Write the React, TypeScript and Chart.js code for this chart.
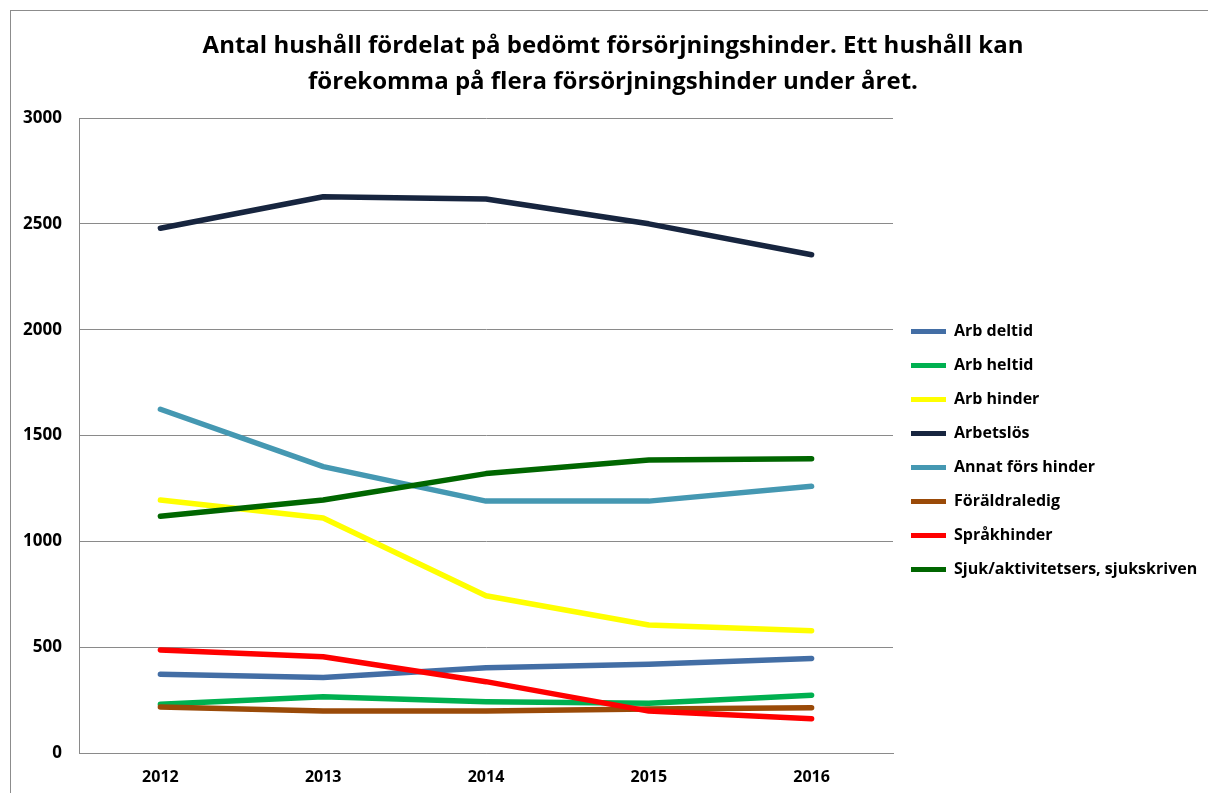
import React, { useEffect, useRef } from "react";
import { Chart, registerables } from "chart.js";

Chart.register(...registerables);

const years = ["2012", "2013", "2014", "2015", "2016"];
const arbDeltid = [372, 357, 403, 419, 447];
const arbHeltid = [230, 266, 242, 235, 273];
const arbHinder = [1195, 1110, 743, 605, 578];
const arbetslos = [2479, 2628, 2617, 2500, 2354];
const annatForsHinder = [1624, 1353, 1190, 1190, 1260];
const foraldraledig = [217, 198, 198, 208, 214];
const sprakhinder = [487, 455, 337, 198, 162];
const sjuk = [1118, 1195, 1320, 1384, 1390];

const seriesNames = [
  "Arb deltid",
  "Arb heltid",
  "Arb hinder",
  "Arbetslös",
  "Annat förs hinder",
  "Föräldraledig",
  "Språkhinder",
  "Sjuk/aktivitetsers, sjukskriven",
];
const seriesValues = [arbDeltid, arbHeltid, arbHinder, arbetslos, annatForsHinder, foraldraledig, sprakhinder, sjuk];
const seriesColors = ["#436EA5", "#00B050", "#FFFF00", "#17253F", "#4598B2", "#9A4A08", "#FF0000", "#006600"];

const titleLines = [
  "Antal hushåll fördelat på bedömt försörjningshinder. Ett hushåll kan",
  "förekomma på flera försörjningshinder under året.",
];

const FONT = "'Open Sans', 'Liberation Sans', sans-serif";

const legendWidthPlugin = {
  id: "legendWidth",
  beforeLayout(chart: any) {
    const lg = chart.legend;
    if (lg && !lg.__patched) {
      const orig = lg.fit.bind(lg);
      lg.fit = function () {
        orig();
        this.width = 311;
      };
      lg.__patched = true;
    }
  },
};

export default function App() {
  const canvasRef = useRef<HTMLCanvasElement | null>(null);

  useEffect(() => {
    const canvas = canvasRef.current;
    if (!canvas) return;
    const chart = new Chart(canvas, {
      type: "line",
      plugins: [legendWidthPlugin],
      data: {
        labels: years,
        datasets: seriesNames.map((name, i) => ({
          label: name,
          data: seriesValues[i],
          borderColor: seriesColors[i],
          backgroundColor: seriesColors[i],
          borderWidth: 5.5,
          borderCapStyle: "round" as const,
          borderJoinStyle: "round" as const,
          pointRadius: 0,
          tension: 0,
          order: -i,
        })),
      },
      options: {
        animation: false,
        responsive: false,
        layout: { padding: { left: 22, right: 4, top: 0, bottom: 6 } },
        plugins: {
          title: {
            display: true,
            text: titleLines,
            color: "#000",
            font: { family: FONT, size: 24, weight: "bold", lineHeight: 1.5 },
            padding: { top: 28, bottom: 18 },
          },
          legend: {
            position: "right",
            title: {
              display: true,
              text: " ",
              font: { family: FONT, size: 10 },
              padding: { top: 102, bottom: 0 },
            },
            labels: {
              color: "#000",
              font: { family: FONT, size: 16, weight: "bold" },
              boxWidth: 35,
              boxHeight: 5,
              padding: 18,
              useBorderRadius: true,
              borderRadius: 2.5,
              sort: (a: any, b: any) => a.datasetIndex - b.datasetIndex,
              generateLabels: (ch: any) =>
                ch.data.datasets.map((ds: any, i: number) => ({
                  text: ds.label,
                  fillStyle: ds.borderColor,
                  strokeStyle: ds.borderColor,
                  lineWidth: 0,
                  fontColor: "#000",
                  hidden: false,
                  datasetIndex: i,
                })),
            },
          },
          tooltip: { enabled: false },
        },
        scales: {
          x: {
            offset: true,
            grid: { display: false, drawTicks: false },
            border: { display: true, color: "#8a8a8a", width: 1 },
            ticks: {
              color: "#000",
              font: { family: FONT, size: 16, weight: "bold" },
              padding: 15,
            },
            afterFit: (scale: any) => {
              scale.height = 34;
            },
          },
          y: {
            min: 0,
            max: 3000,
            grid: { color: "#8a8a8a", lineWidth: 1, drawTicks: false },
            border: { display: true, color: "#8a8a8a", width: 1 },
            ticks: {
              stepSize: 500,
              color: "#000",
              font: { family: FONT, size: 17, weight: "bold" },
              padding: 17,
              callback: (v: any) => String(v),
            },
            afterFit: (scale: any) => {
              scale.width = 57;
            },
          },
        },
      },
    });
    return () => chart.destroy();
  }, []);

  return (
    <div style={{ position: "fixed", left: 0, top: 0, width: 1208, height: 793, overflow: "hidden", background: "#fff" }}>
      <canvas ref={canvasRef} width={1208} height={793} style={{ position: "absolute", left: 0, top: 0, width: 1208, height: 793 }} />
      <div
        style={{
          position: "absolute",
          left: 10,
          top: 10,
          width: 1300,
          height: 900,
          border: "1px solid #8c8c8c",
          pointerEvents: "none",
        }}
      />
    </div>
  );
}
